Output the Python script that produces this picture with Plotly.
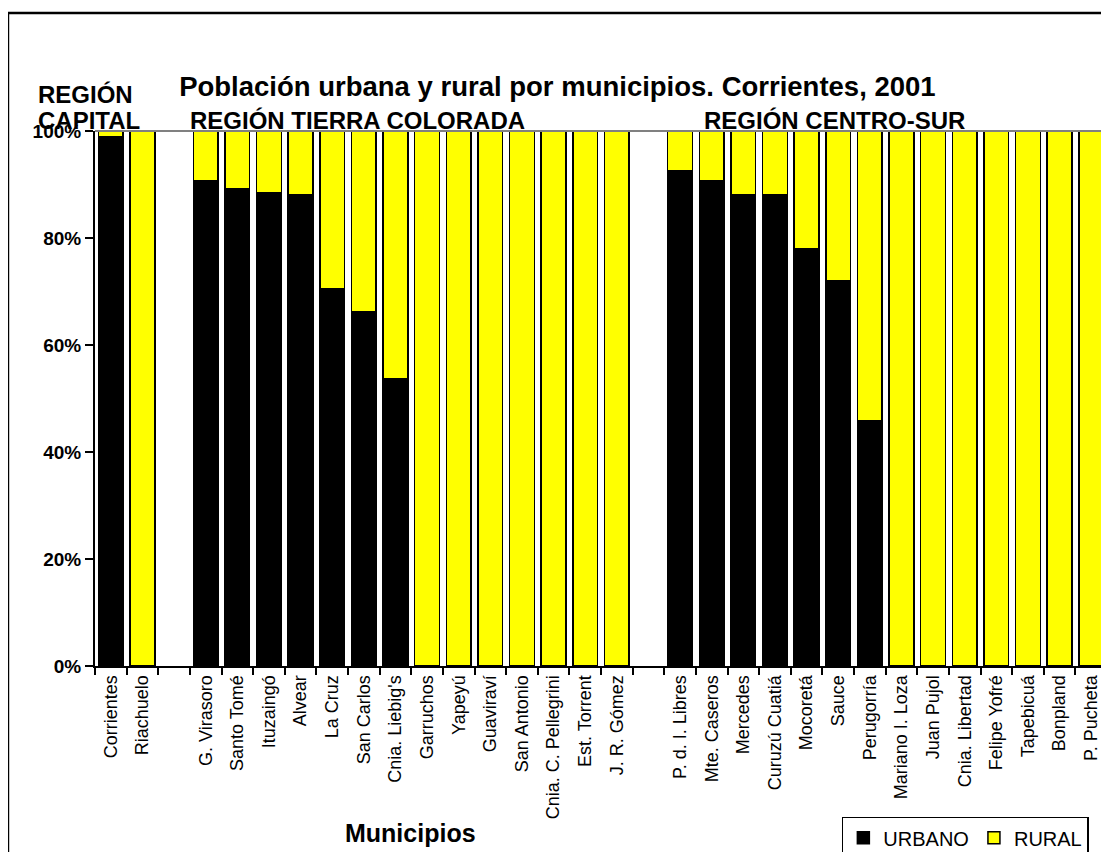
import plotly.graph_objects as go

# Municipios (blank entries are the gaps between regions)
MUNICIPIOS = [
    'Corrientes', 'Riachuelo', ' ',
    'G. Virasoro', 'Santo Tomé', 'Ituzaingó', 'Alvear', 'La Cruz', 'San Carlos',
    "Cnia. Liebig's", 'Garruchos', 'Yapeyú', 'Guaviraví', 'San Antonio',
    'Cnia. C. Pellegrini', 'Est. Torrent', 'J. R. Gómez', '  ',
    'P. d. I. Libres', 'Mte. Caseros', 'Mercedes', 'Curuzú Cuatiá', 'Mocoretá',
    'Sauce', 'Perugorría', 'Mariano I. Loza', 'Juan Pujol', 'Cnia. Libertad',
    'Felipe Yofré', 'Tapebicuá', 'Bonpland', 'P. Pucheta',
]

URBANO = [
    99.0, 0, None,
    90.7, 89.2, 88.4, 88.0, 70.5, 66.3,
    53.7, 0, 0, 0, 0,
    0, 0, 0, None,
    92.6, 90.7, 88.0, 88.0, 78.0,
    72.0, 45.8, 0, 0, 0,
    0, 0, 0, 0,
]

RURAL = [
    1.0, 100, None,
    9.3, 10.8, 11.6, 12.0, 29.5, 33.7,
    46.3, 100, 100, 100, 100,
    100, 100, 100, None,
    7.4, 9.3, 12.0, 12.0, 22.0,
    28.0, 54.2, 100, 100, 100,
    100, 100, 100, 100,
]

FONT = 'Arial, Liberation Sans, sans-serif'

fig = go.Figure()
fig.add_trace(go.Bar(
    x=MUNICIPIOS, y=URBANO, name='URBANO',
    marker=dict(color='#000000', line=dict(color='#000000', width=1.5))
))
fig.add_trace(go.Bar(
    x=MUNICIPIOS, y=RURAL, name='RURAL',
    marker=dict(color='#FFFF00', line=dict(color='#000000', width=1.5))
))

# page body has an 8px margin, so the figure is 8px smaller on each axis
fig.update_layout(
    width=1101, height=844,
    barmode='stack', bargap=0.22,
    plot_bgcolor='white', paper_bgcolor='white',
    margin=dict(l=87, r=2, t=123, b=186, autoexpand=False),
    font=dict(family=FONT, color='black'),
    title=dict(
        text='Población urbana y rural por municipios. Corrientes, 2001',
        x=0.499, y=0.9076, xanchor='center', yanchor='middle',
        font=dict(size=27.5, family=FONT, weight='bold', color='black')
    ),
    legend=dict(
        orientation='h', x=0.738, y=-0.282, xanchor='left', yanchor='top',
        bordercolor='black', borderwidth=1.5,
        font=dict(size=20, family=FONT), traceorder='normal'
    ),
    xaxis=dict(
        type='category', categoryorder='array', categoryarray=MUNICIPIOS,
        tickangle=-90, tickson='boundaries', ticks='outside', ticklen=7,
        tickcolor='black', tickwidth=1.5,
        showline=True, linecolor='black', linewidth=2,
        tickfont=dict(size=18, family=FONT),
        showgrid=False,
    ),
    yaxis=dict(
        range=[0, 100], dtick=20, ticksuffix='%',
        ticks='outside', ticklen=8, tickcolor='black', tickwidth=1.5,
        showline=True, linecolor='black', linewidth=2,
        showgrid=False, zeroline=False,
        tickfont=dict(size=19, family=FONT, weight='bold'),
    ),
)

# plot-area border (top and right) and outer chart frame
fig.add_shape(type='line', xref='paper', yref='paper', x0=0, x1=1, y0=1, y1=1,
              line=dict(color='#808080', width=2))
fig.add_shape(type='line', xref='paper', yref='paper', x0=1, x1=1, y0=0, y1=1,
              line=dict(color='#808080', width=2))
fig.add_shape(type='rect', xref='paper', yref='paper',
              x0=-0.086, x1=1.05, y0=-0.6, y1=1.2206,
              line=dict(color='black', width=2.5))

bold = dict(family=FONT, size=24, weight='bold', color='black')
fig.add_annotation(text='REGIÓN', xref='paper', yref='paper', x=-0.058, y=1.069,
                   xanchor='left', yanchor='middle', showarrow=False, font=bold)
fig.add_annotation(text='CAPITAL', xref='paper', yref='paper', x=-0.058, y=1.020,
                   xanchor='left', yanchor='middle', showarrow=False, font=bold)
fig.add_annotation(text='REGIÓN TIERRA COLORADA', xref='paper', yref='paper', x=0.092, y=1.020,
                   xanchor='left', yanchor='middle', showarrow=False, font=bold)
fig.add_annotation(text='REGIÓN CENTRO-SUR', xref='paper', yref='paper', x=0.600, y=1.020,
                   xanchor='left', yanchor='middle', showarrow=False, font=bold)
fig.add_annotation(text='Municipios', xref='paper', yref='paper', x=0.312, y=-0.312,
                   xanchor='center', yanchor='middle', showarrow=False,
                   font=dict(family=FONT, size=25, weight='bold', color='black'))

fig.write_html('out.html')
